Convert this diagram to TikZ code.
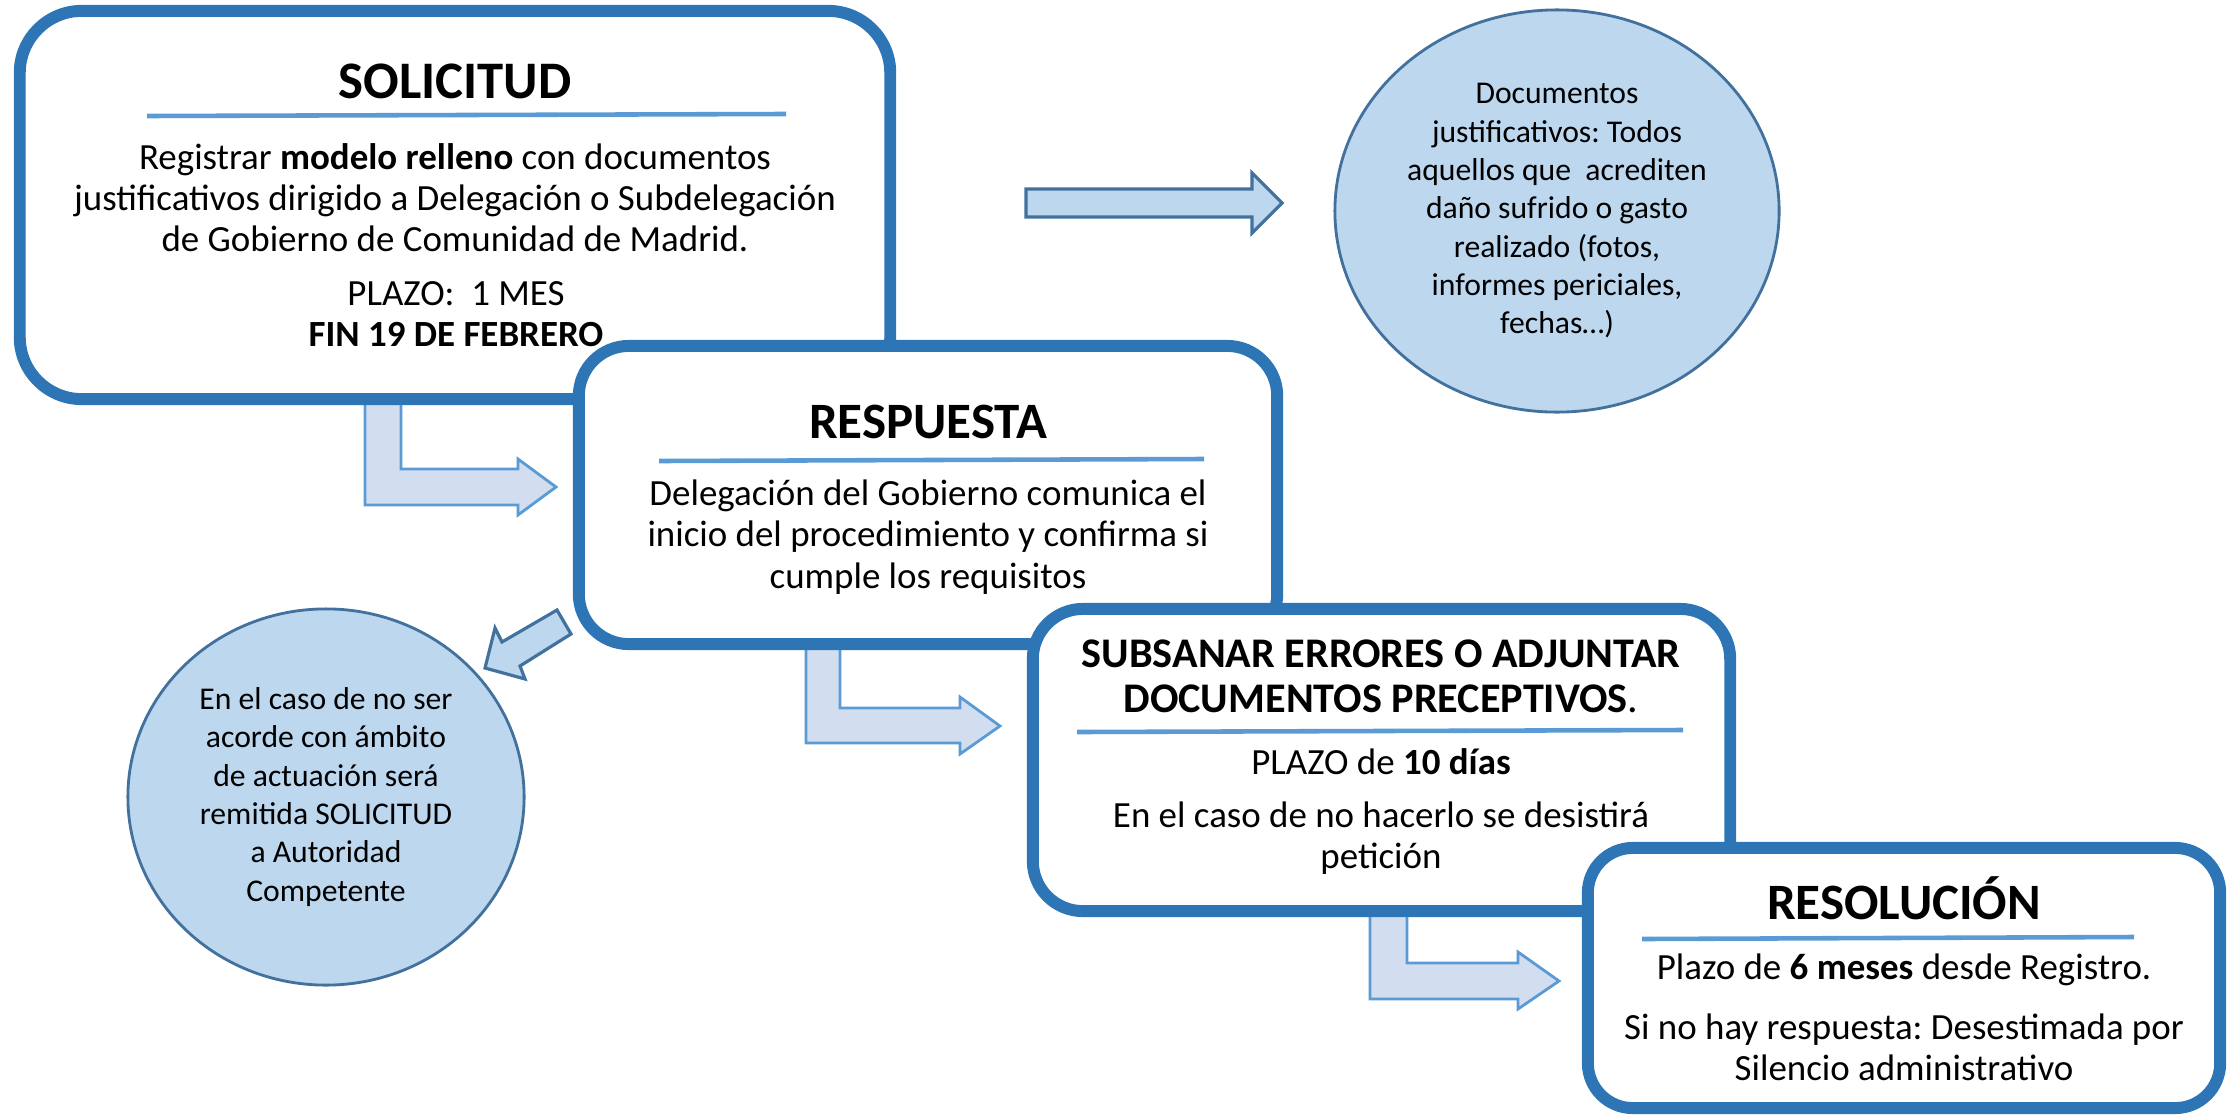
\documentclass[tikz,border=0pt]{standalone}
\usepackage{fontspec}
\setmainfont{Carlito}
\frenchspacing
\usetikzlibrary{shapes.geometric}
\definecolor{boxblue}{HTML}{2E75B6}
\definecolor{ruleblue}{HTML}{5B9BD5}
\definecolor{ovalfill}{HTML}{BDD7EE}
\definecolor{ovalline}{HTML}{41719C}
\definecolor{bentfill}{HTML}{D2DEEF}
\definecolor{bentline}{HTML}{5B9BD5}
\begin{document}
\begin{tikzpicture}[x=0.01cm,y=-0.01cm,
  box/.style={draw=boxblue, line width=3.4pt, fill=white},
  rulel/.style={draw=ruleblue, line width=1.3pt},
  ttl/.style={font=\bfseries\fontsize{14.5}{16}\selectfont, inner sep=0pt, align=center},
  body/.style={font=\fontsize{10.5}{11.7}\selectfont, align=center, inner sep=0pt},
  oval/.style={ellipse, draw=ovalline, fill=ovalfill, line width=0.8pt, font=\fontsize{9}{10.9}\selectfont, align=center, inner sep=0pt},
  bent/.style={fill=bentfill, draw=bentline, line width=0.8pt, line join=miter},
  blk/.style={fill=ovalfill, draw=ovalline, line width=0.9pt, line join=miter}
]
\useasboundingbox (0,0) rectangle (2234,1115);

% ellipses
\node[oval, minimum width=4.44cm, minimum height=4.02cm] (docs) at (1557,211)
  {Documentos\\justificativos: Todos\\aquellos que\ \ acrediten\\daño sufrido o gasto\\realizado (fotos,\\informes periciales,\\fechas…)};
\node[oval, minimum width=3.96cm, minimum height=3.76cm] (otro) at (326,797)
  {En el caso de no ser\\acorde con ámbito\\de actuación será\\remitida SOLICITUD\\a Autoridad\\Competente};

% block arrows
\draw[blk] (1026,189) -- (1252,189) -- (1252,173) -- (1282,203) -- (1252,233) -- (1252,217) -- (1026,217) -- cycle;
\draw[blk] (557,610) -- (571,634) -- (520,666) -- (525,679) -- (485,668) -- (495,628) -- (502,642) -- cycle;
\draw[bent] (365,399) -- (401,399) -- (401,469) -- (518,469) -- (518,459) -- (556,487) -- (518,515) -- (518,505) -- (365,505) -- cycle;
\draw[bent] (806,644) -- (840,644) -- (840,708) -- (960,708) -- (960,697) -- (1000,726) -- (960,754) -- (960,743) -- (806,743) -- cycle;
\draw[bent] (1370,911) -- (1407,911) -- (1407,963) -- (1518,963) -- (1518,952) -- (1559,981) -- (1518,1009) -- (1518,999) -- (1370,999) -- cycle;

% SOLICITUD
\node[box, minimum width=8.70cm, minimum height=3.88cm, rounded corners=0.62cm] (sol) at (455,205) {};
\node[ttl, font=\bfseries\fontsize{15}{16}\selectfont] (solT) at (455,81) {SOLICITUD};
\draw[rulel] (147,116) -- (786,114);
\node[body] (solB) at (455,198) {Registrar \textbf{modelo relleno} con documentos\\justificativos dirigido a Delegación o Subdelegación\\de Gobierno de Comunidad de Madrid.};
\node[body] (solP) at (456,314) {PLAZO:\ \ 1 MES\\\textbf{FIN 19 DE FEBRERO}};

% RESPUESTA
\node[box, minimum width=6.98cm, minimum height=2.98cm, rounded corners=0.50cm] (resp) at (928,495) {};
\node[ttl] (respT) at (928,422) {RESPUESTA};
\draw[rulel] (659,461) -- (1204,459);
\node[body] (respB) at (928,537) {Delegación del Gobierno comunica el\\inicio del procedimiento y confirma si\\cumple los requisitos};

% SUBSANAR
\node[box, minimum width=6.97cm, minimum height=3.02cm, rounded corners=0.50cm] (sub) at (1381.5,760) {};
\node[ttl, font=\bfseries\fontsize{12}{12.8}\selectfont] (subT) at (1381,676) {SUBSANAR ERRORES O ADJUNTAR\\DOCUMENTOS PRECEPTIVOS{\mdseries.}};
\draw[rulel] (1077,732) -- (1683,730);
\node[body] (subP) at (1381,762) {PLAZO de \textbf{10 días}};
\node[body] (subB) at (1381,838) {En el caso de no hacerlo se desistirá\\petición};

% RESOLUCION
\node[box, minimum width=6.32cm, minimum height=2.60cm, rounded corners=0.45cm] (res) at (1904,978) {};
\node[ttl] (resT) at (1904,898) {RESOLUCIÓN};
\draw[rulel] (1642,939) -- (2134,937);
\node[body] (resP) at (1904,970) {Plazo de \textbf{6 meses} desde Registro.};
\node[body] (resB) at (1904,1047) {Si no hay respuesta: Desestimada por\\Silencio administrativo};
\end{tikzpicture}
\end{document}
